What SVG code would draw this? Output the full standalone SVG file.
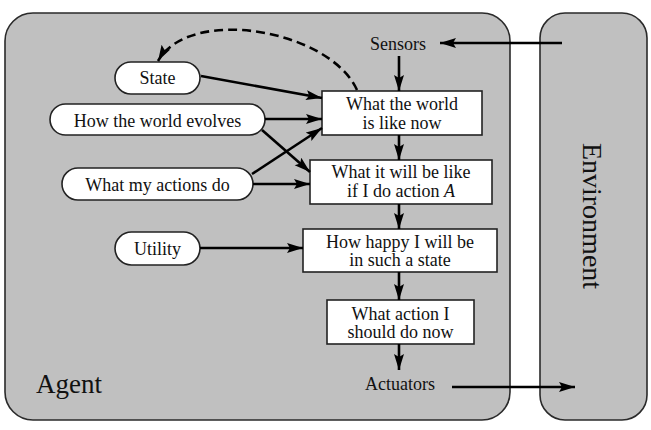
<svg xmlns="http://www.w3.org/2000/svg" width="651" height="430" viewBox="0 0 651 430" font-family="'Liberation Serif', 'Times New Roman', serif">
<style>
text{font-family:"Liberation Serif","Times New Roman",serif;fill:#111;}
.t{font-family:"Liberation Serif","Times New Roman",serif;font-size:18px;text-anchor:middle;}
.panel{fill:#c0c0c0;stroke:#2a2a2a;stroke-width:1.6;}
.box{fill:#fff;stroke:#222;stroke-width:1.6;}
.oval{fill:#fff;stroke:#222;stroke-width:1.6;}
.c{fill:none;stroke:#000;stroke-width:2.6;marker-end:url(#ah);}
.d{fill:none;stroke:#000;stroke-width:2.6;stroke-dasharray:9 5;marker-end:url(#ah);}
</style>
<defs>
<marker id="ah" markerUnits="userSpaceOnUse" markerWidth="18" markerHeight="12" refX="16" refY="5" orient="auto">
<path d="M0,0 L16,5 L0,10 L3,5 Z" fill="#000"/>
</marker>
</defs>
<rect width="651" height="430" fill="#fff"/>
<g id="agent">
<rect class="panel" x="5" y="13" width="505" height="407" rx="28" ry="28"/>
<text x="36" y="393" font-family="'Liberation Serif', serif" font-size="27">Agent</text>
</g>
<g id="environment">
<rect class="panel" x="540" y="13" width="107" height="407" rx="25" ry="25"/>
<text transform="translate(583,216) rotate(90)" font-family="'Liberation Serif', serif" font-size="28" text-anchor="middle">Environment</text>
</g>
<g id="sensors"><text class="t" x="398" y="50" font-family="'Liberation Serif', serif">Sensors</text></g>
<g id="actuators"><text class="t" x="400" y="390" font-family="'Liberation Serif', serif">Actuators</text></g>
<g id="state">
<rect class="oval" x="115" y="62" width="85" height="32" rx="16"/>
<text class="t" x="157.5" y="84" font-family="'Liberation Serif', serif">State</text>
</g>
<g id="evolves">
<rect class="oval" x="50" y="104" width="215" height="31" rx="15.5"/>
<text class="t" x="157.5" y="127" font-family="'Liberation Serif', serif">How the world evolves</text>
</g>
<g id="actions">
<rect class="oval" x="62" y="168" width="191" height="32" rx="16"/>
<text class="t" x="157.5" y="191" font-family="'Liberation Serif', serif">What my actions do</text>
</g>
<g id="utility">
<rect class="oval" x="115" y="232" width="85" height="33" rx="16.5"/>
<text class="t" x="157.5" y="255" font-family="'Liberation Serif', serif">Utility</text>
</g>
<g id="box1">
<rect class="box" x="322" y="91" width="160" height="44"/>
<text class="t" x="402" y="110" font-family="'Liberation Serif', serif">What the world</text>
<text class="t" x="402" y="128.5" font-family="'Liberation Serif', serif">is like now</text>
</g>
<g id="box2">
<rect class="box" x="310" y="160" width="182" height="44"/>
<text class="t" x="401" y="178" font-family="'Liberation Serif', serif">What it will be like</text>
<text class="t" x="401" y="197" font-family="'Liberation Serif', serif">if I do action <tspan font-style="italic">A</tspan></text>
</g>
<g id="box3">
<rect class="box" x="303" y="229" width="194" height="43"/>
<text class="t" x="400" y="247.5" font-family="'Liberation Serif', serif">How happy I will be</text>
<text class="t" x="400" y="266" font-family="'Liberation Serif', serif">in such a state</text>
</g>
<g id="box4">
<rect class="box" x="327" y="300" width="147" height="44"/>
<text class="t" x="400.5" y="319.5" font-family="'Liberation Serif', serif">What action I</text>
<text class="t" x="400.5" y="338" font-family="'Liberation Serif', serif">should do now</text>
</g>
<g id="connectors">
<path class="c" d="M562,43 L440,43"/>
<path class="c" d="M399,56 L399,91"/>
<path class="c" d="M399,135 L399,160"/>
<path class="c" d="M399,204 L399,229"/>
<path class="c" d="M399,272 L399,300"/>
<path class="c" d="M399,344 L399,370"/>
<path class="c" d="M452,387 L575,387"/>
<path class="c" d="M201,76 L322,98"/>
<path class="c" d="M265,119 L322,119"/>
<path class="c" d="M262,130 L310,172"/>
<path class="c" d="M252,174 L322,128"/>
<path class="c" d="M253,184 L310,184"/>
<path class="c" d="M200,248 L303,248"/>
<path class="d" d="M357,90 C330,30 190,5 158,61"/>
</g>
</svg>
